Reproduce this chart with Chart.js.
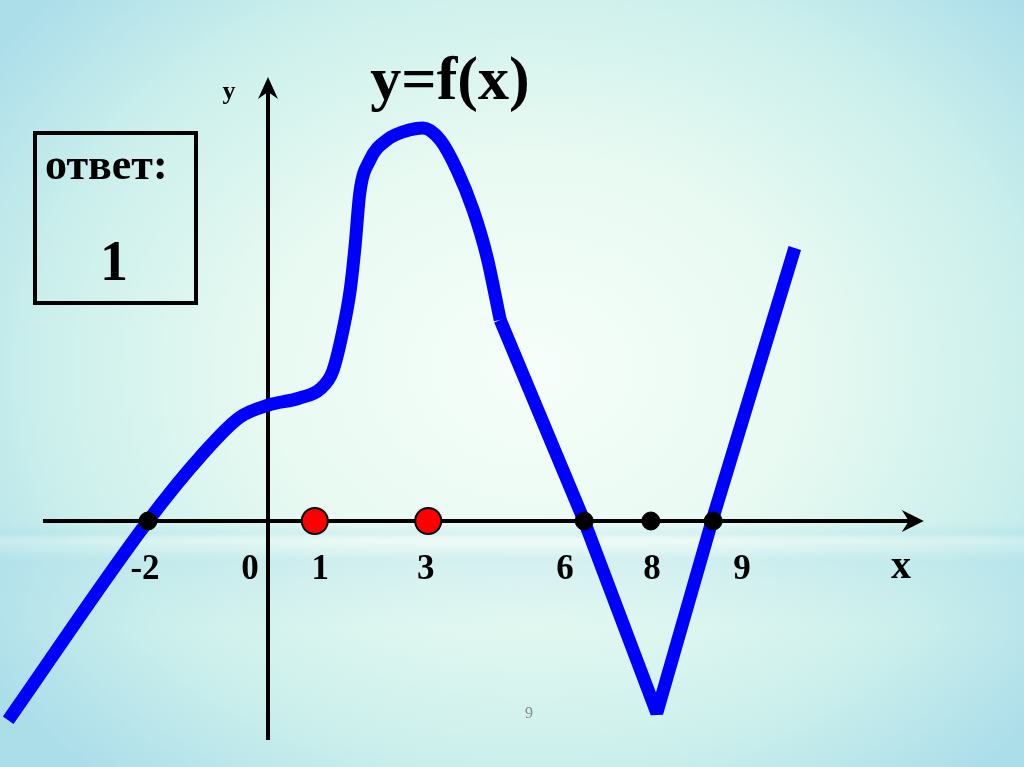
<!DOCTYPE html>
<html lang="ru">
<head>
<meta charset="utf-8">
<script src="https://cdn.jsdelivr.net/npm/chart.js@4"></script>
<style>
    body { margin: 0; }
    #wrap {
        position: relative;
        width: 1024px;
        height: 767px;
        background:
            linear-gradient(to bottom, rgba(0,0,0,0) 0%, rgba(0,0,0,0) 68%, rgba(160,215,235,0.25) 69.5%, rgba(255,255,255,0.2) 70.5%, rgba(160,215,235,0.3) 73%, rgba(0,0,0,0) 82%),
            radial-gradient(ellipse 65% 70% at 52% 48%, #f6fefa 0%, #e8faf2 40%, #cdf0ec 72%, #acdeea 100%);
    }
</style>
</head>

<body>
    <div id="wrap"><canvas id="graph"></canvas></div>

    <script>
        // smooth part of y=f(x) (slide units, 1 unit ~ 60px)
        const curveX = [-4.33, -2, -1.13, -0.47, 0, 0.53, 0.87, 1.08, 1.25, 1.37, 1.45, 1.53, 1.7, 1.98, 2.37, 2.58, 2.87, 3.15, 3.42, 3.65, 3.87];
        const curveY = [-3.32, 0, 1.07, 1.73, 1.93, 2.05, 2.2, 2.5, 3.18, 3.85, 4.57, 5.47, 6.02, 6.35, 6.52, 6.55, 6.35, 5.85, 5.18, 4.4, 3.35];
        // straight part (the V)
        const lineX = [3.87, 5.27, 6.48, 7.4, 8.78];
        const lineY = [3.35, 0, -3.2, 0, 4.55];
        // marked points on the x axis
        const blackDotX = [-2, 5.27, 6.38, 7.42];
        const redDotX = [0.78, 2.67];
        // labels under the x axis
        const tickText = ['-2', '0', '1', '3', '6', '8', '9'];
        const tickAt = [-2.05, -0.3, 0.87, 2.63, 4.95, 6.4, 7.9];
        const xAxisRange = [-3.75, 10.93];
        const yAxisRange = [-3.65, 7.4];

        const pts = (xs, ys) => xs.map((x, i) => ({ x: x, y: ys ? ys[i] : 0 }));
        const SERIF = '"Liberation Serif", "Times New Roman", serif';

        function arrow(ctx, x, y, dir) {
            // dir: 'right' or 'up'
            ctx.beginPath();
            if (dir === 'right') {
                ctx.moveTo(x, y);
                ctx.lineTo(x - 22, y - 11);
                ctx.lineTo(x - 15, y);
                ctx.lineTo(x - 22, y + 11);
            } else {
                ctx.moveTo(x, y);
                ctx.lineTo(x - 10, y + 22);
                ctx.lineTo(x, y + 15);
                ctx.lineTo(x + 10, y + 22);
            }
            ctx.closePath();
            ctx.fill();
        }

        const slide = {
            id: 'slide',
            beforeDatasetsDraw(chart) {
                const ctx = chart.ctx;
                const X = v => chart.scales.x.getPixelForValue(v);
                const Y = v => chart.scales.y.getPixelForValue(v);
                ctx.save();
                ctx.strokeStyle = '#000';
                ctx.fillStyle = '#000';
                ctx.lineWidth = 4;
                ctx.beginPath();
                ctx.moveTo(X(xAxisRange[0]), Y(0));
                ctx.lineTo(X(xAxisRange[1]) - 12, Y(0));
                ctx.moveTo(X(0), Y(yAxisRange[0]));
                ctx.lineTo(X(0), Y(yAxisRange[1]) + 12);
                ctx.stroke();
                arrow(ctx, X(xAxisRange[1]), Y(0), 'right');
                arrow(ctx, X(0), Y(yAxisRange[1]), 'up');
                ctx.restore();
            },
            afterDatasetsDraw(chart) {
                const ctx = chart.ctx;
                const X = v => chart.scales.x.getPixelForValue(v);
                const Y = v => chart.scales.y.getPixelForValue(v);
                ctx.save();
                ctx.fillStyle = '#000';
                ctx.textAlign = 'center';
                ctx.textBaseline = 'alphabetic';

                ctx.font = 'bold 35px ' + SERIF;
                tickText.forEach((t, i) => ctx.fillText(t, X(tickAt[i]), Y(0) + 58));
                ctx.font = 'bold 40px ' + SERIF;
                ctx.fillText('x', 901, Y(0) + 57);
                ctx.font = 'bold 26px ' + SERIF;
                ctx.fillText('y', 229, 99);

                ctx.font = 'bold 62px ' + SERIF;
                ctx.fillText('y=f(x)', 450, 99);

                // answer box
                ctx.lineWidth = 4;
                ctx.strokeStyle = '#000';
                ctx.strokeRect(35, 133, 161, 170);
                ctx.textAlign = 'left';
                ctx.font = 'bold 44px ' + SERIF;
                ctx.fillText('ответ:', 45, 179);
                ctx.textAlign = 'center';
                ctx.font = 'bold 56px ' + SERIF;
                ctx.fillText('1', 114, 280);

                ctx.fillStyle = '#888';
                ctx.font = '16px ' + SERIF;
                ctx.fillText('9', 529, 718);
                ctx.restore();
            }
        };

        new Chart(document.getElementById('graph'), {
            type: 'line',
            data: {
                datasets: [
                    {
                        data: pts(redDotX),
                        showLine: false,
                        pointRadius: 13,
                        pointBackgroundColor: '#ff0000',
                        pointBorderColor: '#000',
                        pointBorderWidth: 2,
                        order: 0
                    },
                    {
                        data: pts(blackDotX),
                        showLine: false,
                        pointRadius: 9,
                        pointBackgroundColor: '#000',
                        pointBorderColor: '#000',
                        pointBorderWidth: 1,
                        order: 0
                    },
                    {
                        data: pts(curveX, curveY),
                        borderColor: '#0000ff',
                        borderWidth: 13,
                        pointRadius: 0,
                        cubicInterpolationMode: 'monotone',
                        fill: false,
                        clip: false,
                        order: 1
                    },
                    {
                        data: pts(lineX, lineY),
                        borderColor: '#0000ff',
                        borderWidth: 13,
                        borderJoinStyle: 'bevel',
                        pointRadius: 0,
                        tension: 0,
                        fill: false,
                        clip: false,
                        order: 1
                    }
                ]
            },
            options: {
                responsive: true,
                maintainAspectRatio: false,
                animation: false,
                layout: { padding: 0, autoPadding: false },
                scales: {
                    x: { type: 'linear', min: -268 / 60, max: (1024 - 268) / 60, display: false },
                    y: { type: 'linear', min: -(767 - 521) / 60, max: 521 / 60, display: false }
                },
                plugins: {
                    legend: { display: false },
                    tooltip: { enabled: false }
                }
            },
            plugins: [slide]
        });
    </script>
</body>

</html>
